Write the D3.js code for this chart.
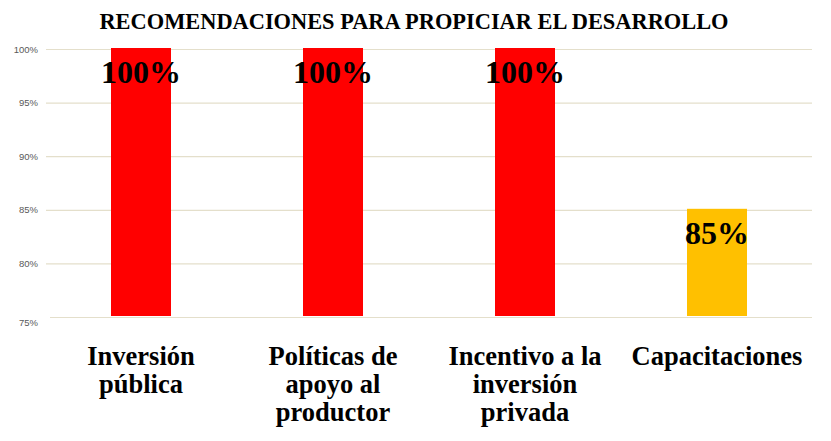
<!DOCTYPE html>
<html>
<head>
<meta charset="utf-8">
<script src="https://cdn.jsdelivr.net/npm/d3@7"></script>
<style>
  body { margin: 0; background: #fff; }
  svg { display: block; }
</style>
</head>
<body>
<div id="chart"></div>
<script>
// data
var categories = [
  ["Inversión", "pública"],
  ["Políticas de", "apoyo al", "productor"],
  ["Incentivo a la", "inversión", "privada"],
  ["Capacitaciones"]
];
var values = [100, 100, 100, 85];
var barColors = ["#ff0000", "#ff0000", "#ff0000", "#ffc000"];
var yTicks = [75, 80, 85, 90, 95, 100];
var title = "RECOMENDACIONES PARA PROPICIAR EL DESARROLLO";

var width = 831, height = 441;

var svg = d3.select("#chart").append("svg")
    .attr("width", width)
    .attr("height", height);

// scales
var x = d3.scaleBand()
    .domain(d3.range(categories.length))
    .range([45, 813])
    .paddingInner(0.6875)
    .paddingOuter(0.34375);

var y = d3.scaleLinear().domain([75, 100]).range([317, 49]);

// title
svg.append("text")
    .attr("x", 414)
    .attr("y", 29)
    .attr("text-anchor", "middle")
    .style("font-family", "'Liberation Serif', 'Times New Roman', serif")
    .style("font-weight", "bold")
    .style("font-size", "22.4px")
    .text(title);

// gridlines
svg.append("g")
  .selectAll("line")
  .data(yTicks)
  .enter().append("line")
    .attr("x1", function(d) { return d === 75 ? 50 : 46; })
    .attr("x2", 812)
    .attr("y1", function(d) { return y(d) + 0.5; })
    .attr("y2", function(d) { return y(d) + 0.5; })
    .attr("stroke", "#e4dfcb")
    .attr("stroke-width", 1.2);

// y axis labels
var yAxis = svg.append("g")
    .attr("transform", "translate(38,0)")
    .call(d3.axisLeft(y).tickValues(yTicks).tickSize(0).tickPadding(0)
      .tickFormat(function(d) { return d + "%"; }));
yAxis.select(".domain").remove();
yAxis.selectAll("text")
    .attr("dy", function(d) { return d === 75 ? "0.9em" : "0.32em"; })
    .style("font-family", "'Liberation Sans', Arial, sans-serif")
    .style("font-size", "9.5px")
    .style("fill", "#595959");

// bars
svg.append("g")
  .selectAll("rect")
  .data(values)
  .enter().append("rect")
    .attr("x", function(d, i) { return x(i); })
    .attr("width", x.bandwidth())
    .attr("y", function(d) { return y(d) - 1; })
    .attr("height", function(d) { return y(75) - y(d); })
    .attr("fill", function(d, i) { return barColors[i]; });

// value labels
svg.append("g")
  .selectAll("text")
  .data(values)
  .enter().append("text")
    .attr("x", function(d, i) { return x(i) + x.bandwidth() / 2; })
    .attr("y", function(d) { return y(d) + 34; })
    .attr("text-anchor", "middle")
    .style("font-family", "'Liberation Serif', 'Times New Roman', serif")
    .style("font-weight", "bold")
    .style("font-size", "32px")
    .text(function(d) { return d + "%"; });

// category labels
var cat = svg.append("g")
  .selectAll("text")
  .data(categories)
  .enter().append("text")
    .attr("text-anchor", "middle")
    .style("font-family", "'Liberation Serif', 'Times New Roman', serif")
    .style("font-weight", "bold")
    .style("font-size", "26.5px");

cat.selectAll("tspan")
  .data(function(d, i) { return d.map(function(s) { return {s: s, i: i}; }); })
  .enter().append("tspan")
    .attr("x", function(d) { return x(d.i) + x.bandwidth() / 2; })
    .attr("y", function(d, j) { return 365 + j * 28; })
    .text(function(d) { return d.s; });
</script>
</body>
</html>
